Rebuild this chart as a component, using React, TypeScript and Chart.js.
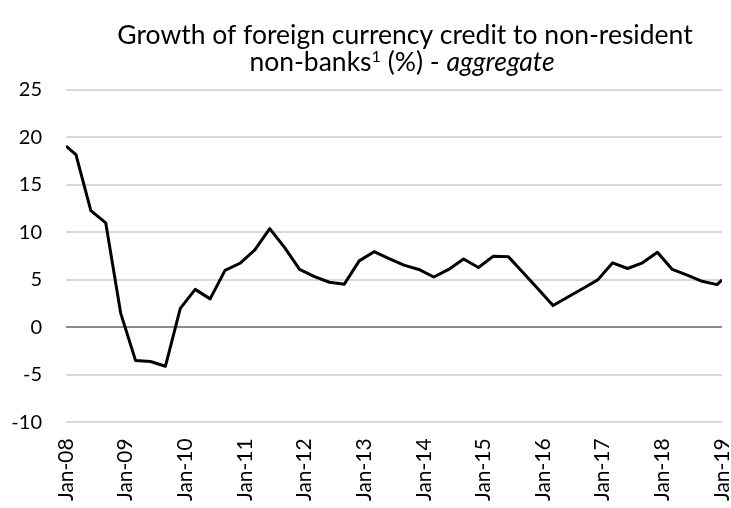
import React, { useEffect, useRef } from "react";
import { Chart, registerables } from "chart.js";

Chart.register(...registerables);

// Observation dates (month-year)
const periods: string[] = [
  "Jan-08", "Mar-08", "Jun-08", "Sep-08", "Dec-08",
  "Mar-09", "Jun-09", "Sep-09", "Dec-09",
  "Mar-10", "Jun-10", "Sep-10", "Dec-10",
  "Mar-11", "Jun-11", "Sep-11", "Dec-11",
  "Mar-12", "Jun-12", "Sep-12", "Dec-12",
  "Mar-13", "Jun-13", "Sep-13", "Dec-13",
  "Mar-14", "Jun-14", "Sep-14", "Dec-14",
  "Mar-15", "Jun-15", "Sep-15", "Dec-15",
  "Mar-16", "Jun-16", "Sep-16", "Dec-16",
  "Mar-17", "Jun-17", "Sep-17", "Dec-17",
  "Mar-18", "Jun-18", "Sep-18", "Dec-18",
  "Jan-19",
];

// Growth of foreign currency credit to non-resident non-banks (%)
const growth: number[] = [
  19.1, 18.2, 12.3, 11.0, 1.5,
  -3.5, -3.6, -4.1, 2.0,
  4.0, 3.0, 6.0, 6.75,
  8.15, 10.4, 8.4, 6.1,
  5.35, 4.75, 4.55, 7.0,
  7.97, 7.25, 6.55, 6.1,
  5.3, 6.1, 7.2, 6.3,
  7.5, 7.45, 5.75, 4.05,
  2.3, 3.2, 4.1, 5.0,
  6.8, 6.2, 6.8, 7.9,
  6.1, 5.5, 4.85, 4.5,
  5.0,
];

// Axis tick labels (one per year)
const xTickLabels: string[] = [
  "Jan-08", "Jan-09", "Jan-10", "Jan-11", "Jan-12", "Jan-13",
  "Jan-14", "Jan-15", "Jan-16", "Jan-17", "Jan-18", "Jan-19",
];
const yMin = -10;
const yMax = 25;
const yStep = 5;

const titleLine1 = "Growth of foreign currency credit to non-resident";
const titleLine2Parts = [
  { text: "non-banks", style: "normal" },
  { text: "1", style: "sup" },
  { text: " (%) - ", style: "normal" },
  { text: "aggregate", style: "italic" },
];

const MONTHS = ["Jan", "Feb", "Mar", "Apr", "May", "Jun", "Jul", "Aug", "Sep", "Oct", "Nov", "Dec"];
function monthIndex(p: string): number {
  const [m, y] = p.split("-");
  return (parseInt(y, 10) - 8) * 12 + MONTHS.indexOf(m);
}

const FONT = "Lato, 'Open Sans', sans-serif";

const titlePlugin = {
  id: "customTitle",
  afterDraw(chart: any) {
    const ctx = chart.ctx as CanvasRenderingContext2D;
    ctx.save();
    ctx.fillStyle = "#000";
    ctx.textBaseline = "alphabetic";
    const size = 26.5;
    ctx.font = `${size}px ${FONT}`;
    ctx.textAlign = "center";
    ctx.fillText(titleLine1, 405, 44);

    // second line with mixed styles
    const fontFor = (s: string) =>
      s === "italic" ? `italic ${size}px ${FONT}` : s === "sup" ? `${Math.round(size * 0.62)}px ${FONT}` : `${size}px ${FONT}`;
    let total = 0;
    const widths = titleLine2Parts.map((p) => {
      ctx.font = fontFor(p.style);
      const w = ctx.measureText(p.text).width;
      total += w;
      return w;
    });
    let x = 402 - total / 2;
    ctx.textAlign = "left";
    titleLine2Parts.forEach((p, i) => {
      ctx.font = fontFor(p.style);
      const y = p.style === "sup" ? 71 - 9 : 71;
      ctx.fillText(p.text, x, y);
      x += widths[i];
    });
    ctx.restore();
  },
};

export default function App() {
  const canvasRef = useRef<HTMLCanvasElement | null>(null);

  useEffect(() => {
    if (!canvasRef.current) return;
    const data = periods.map((p, i) => ({ x: monthIndex(p), y: growth[i] }));
    const chart = new Chart(canvasRef.current, {
      type: "line",
      data: {
        datasets: [
          {
            data,
            borderColor: "#000000",
            borderWidth: 3,
            pointRadius: 0,
            tension: 0,
            borderJoinStyle: "round",
            borderCapStyle: "butt",
            fill: false,
          },
        ],
      },
      options: {
        animation: false,
        responsive: true,
        maintainAspectRatio: false,
        layout: { padding: { top: 90, right: 9, bottom: 0, left: 0 } },
        plugins: {
          legend: { display: false },
          title: { display: false },
          tooltip: { enabled: false },
        },
        scales: {
          x: {
            type: "linear",
            min: 0,
            max: (xTickLabels.length - 1) * 12,
            grid: { display: false, drawTicks: false },
            border: { display: false },
            afterFit: (s: any) => {
              s.height = 85.7;
              s.paddingRight = 9;
            },
            afterBuildTicks: (s: any) => {
              s.ticks = xTickLabels.map((_, i) => ({ value: i * 12 }));
            },
            ticks: {
              autoSkip: false,
              maxRotation: 90,
              minRotation: 90,
              padding: 16,
              color: "#000",
              font: { family: FONT, size: 21 },
              callback: (v: any) => xTickLabels[Math.round(Number(v) / 12)] ?? "",
            },
          },
          y: {
            min: yMin,
            max: yMax,
            afterFit: (s: any) => {
              s.width = 66;
            },
            border: { display: false },
            grid: {
              drawTicks: false,
              lineWidth: 2,
              color: (c: any) => (c.tick && c.tick.value === 0 ? "#8c8c8c" : "#d9d9d9"),
            },
            ticks: {
              stepSize: yStep,
              padding: 24,
              color: "#000",
              font: { family: FONT, size: 20 },
            },
          },
        },
      },
      plugins: [titlePlugin],
    });
    return () => chart.destroy();
  }, []);

  return (
    <div style={{ position: "fixed", left: 0, top: 0, width: 731, height: 508, background: "#fff" }}>
      <canvas ref={canvasRef} />
    </div>
  );
}
